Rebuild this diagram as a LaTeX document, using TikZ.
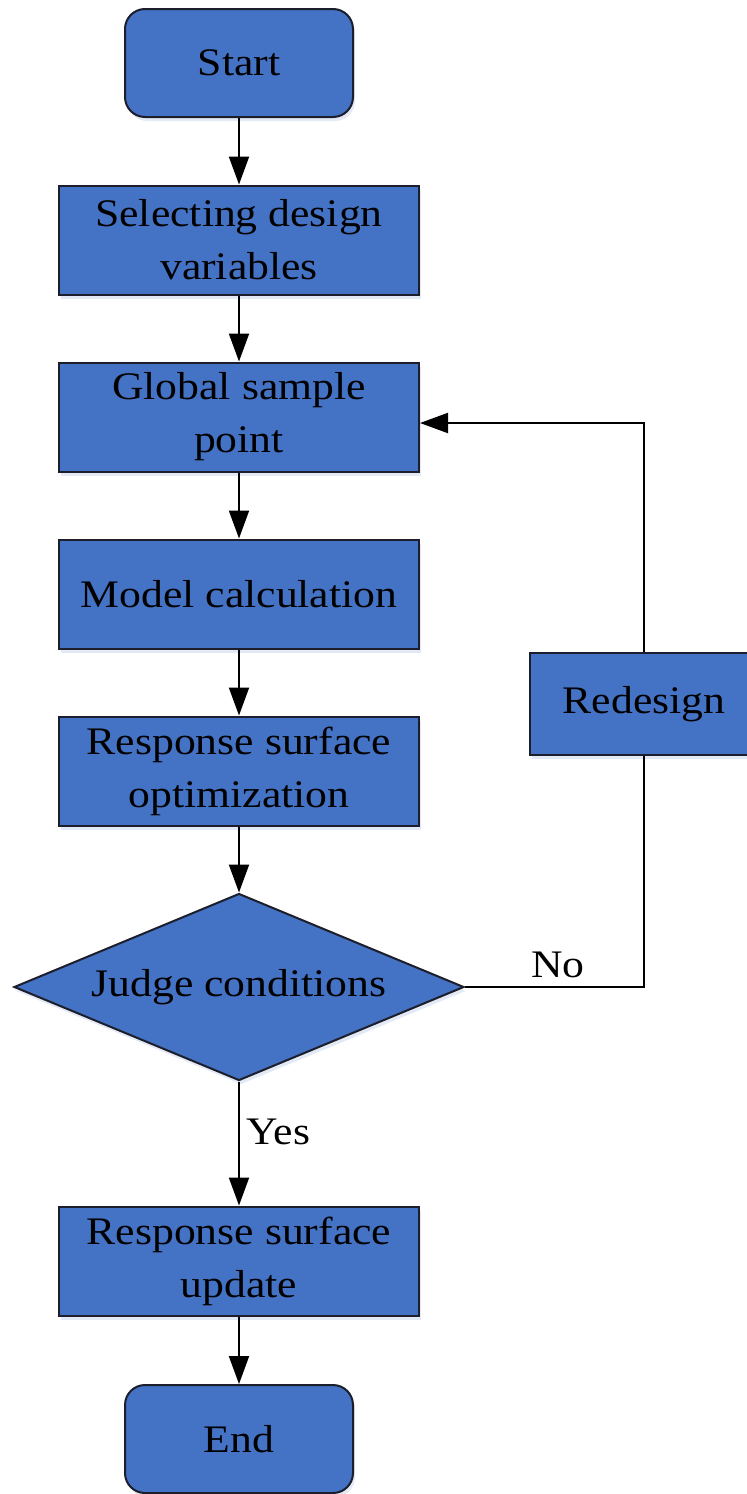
\documentclass[tikz,border=0pt]{standalone}
\usepackage{fontspec}
\setmainfont{Liberation Serif}[FakeStretch=1.12]
\usetikzlibrary{
        arrows.meta,
        positioning,
        shadows,
        shapes.geometric
    }
\definecolor{boxblue}{HTML}{4472C4}
\definecolor{boxline}{HTML}{1C1F2B}
\tikzset{>={Triangle[length=14pt,width=10pt]},node distance=88.5pt}
\tikzset{every node/.style={font=\fontsize{19.5}{26.5}\selectfont}}

\begin{document}
\begin{tikzpicture}[x=0.5pt,y=-0.5pt,line width=1pt]
        \tikzset{block/.style={rectangle,draw=boxline,line width=1pt,fill=boxblue,
            minimum width=180pt,minimum height=54.5pt,align=center,inner sep=2pt,
            drop shadow={shadow xshift=1pt,shadow yshift=-2pt,fill=boxblue!25,opacity=0.6}}}
        \tikzset{startstop/.style={block,rounded corners=10pt,minimum width=114pt,minimum height=54pt}}
        \tikzset{decision/.style={diamond,aspect=2.4,draw=boxline,line width=1pt,fill=boxblue,
            minimum width=225pt,minimum height=93.5pt,inner sep=0pt,
            drop shadow={shadow xshift=1pt,shadow yshift=-2pt,fill=boxblue!25,opacity=0.6}}}
        \useasboundingbox (0,0) rectangle (747,1494);
        \node[startstop] (start) at (239,63) {Start};
        \node[block] (select) [below of=start] {Selecting design\\variables};
        \node[block] (global) [below of=select] {Global sample\\point};
        \node[block] (model) [below of=global] {Model calculation};
        \node[block] (optim) [below of=model] {Response surface\\optimization};
        \node[decision] (judge) [below of=optim,node distance=108pt] {Judge conditions};
        \node[block] (update) [below of=judge,node distance=137pt] {Response surface\\update};
        \node[startstop] (end) [below of=update,node distance=89pt] {End};
        \node[block,minimum width=114pt,minimum height=51pt] (redesign) at (644,704) {Redesign};
        \coordinate (back) at (644,423);
        \path[->]
            (start) edge (select)
            (select) edge (global)
            (global) edge (model)
            (model) edge (optim)
            (optim) edge (judge)
            (judge) edge node[right,pos=0.41] {Yes} (update)
            (update) edge (end)
        ;
        \draw (judge.east) -- node[above,pos=0.52,inner sep=4pt] {No} (judge.east -| redesign) -- (redesign.south);
        \draw[->] (redesign.north) -- (back) -- (global.east |- back);
    \end{tikzpicture}
\end{document}
